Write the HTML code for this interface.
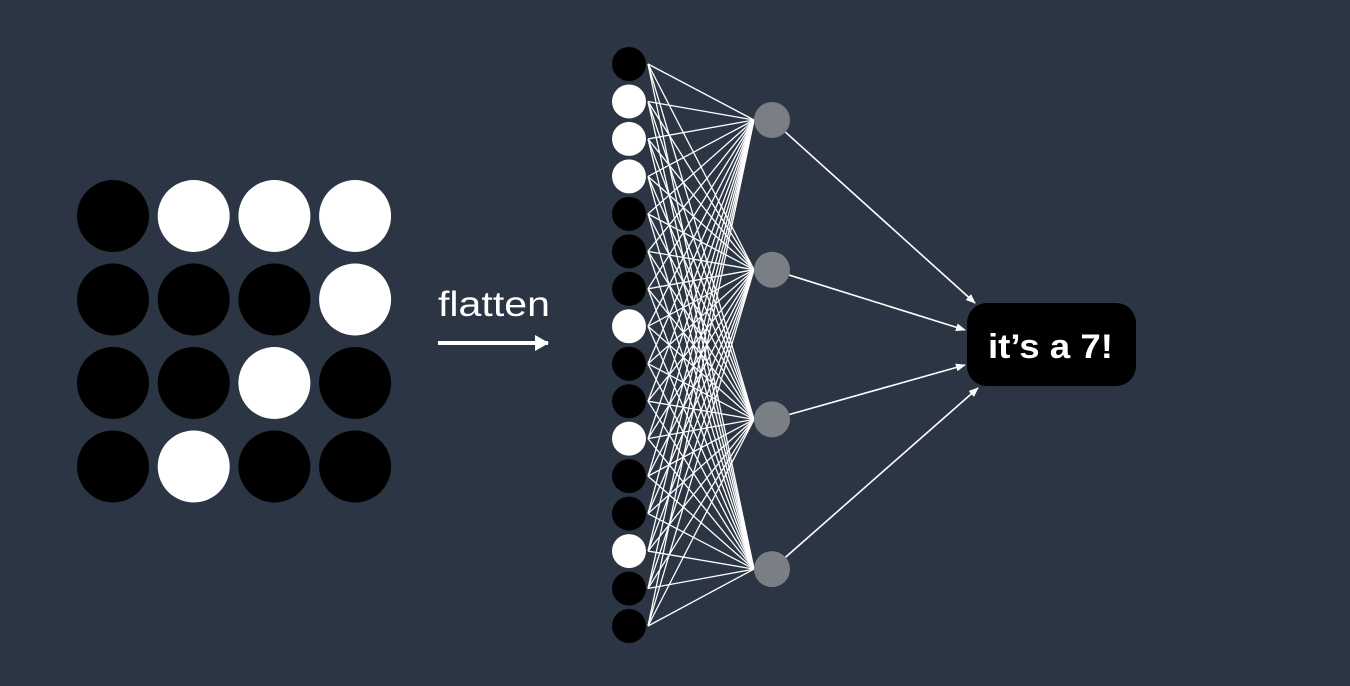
<!DOCTYPE html>
<html><head><meta charset="utf-8"><style>
html,body{margin:0;padding:0;background:#2b3543;width:1350px;height:686px;overflow:hidden}
svg{display:block}
</style></head><body>
<svg id="s" width="1350" height="686">
<defs><marker id="ah" markerWidth="10" markerHeight="10" refX="9" refY="5" orient="auto" markerUnits="userSpaceOnUse"><path d="M0,1 L10,5 L0,9 z" fill="#fff"/></marker>
<marker id="ah2" markerWidth="14" markerHeight="16" refX="13" refY="8" orient="auto" markerUnits="userSpaceOnUse"><path d="M0,0 L14,8 L0,16 z" fill="#fff"/></marker></defs>
<g id="grid"></g>
<text x="438" y="316" fill="#fff" font-family="Liberation Sans, sans-serif" font-size="35" textLength="112" lengthAdjust="spacingAndGlyphs">flatten</text>
<line x1="438" y1="343" x2="548" y2="343" stroke="#fff" stroke-width="4" marker-end="url(#ah2)"/>
<g id="edges"></g>
<g id="nodes"></g>
<rect x="967" y="303" width="169" height="83" rx="20" fill="#000"/>
<text x="988" y="358" fill="#fff" font-family="Liberation Sans, sans-serif" font-size="34" font-weight="bold" textLength="125" lengthAdjust="spacingAndGlyphs">it’s a 7!</text>
</svg>
<script>
const pixels = [[0,1,1,1],[0,0,0,1],[0,0,1,0],[0,1,0,0]];
const hiddenCount = 4;
const NS='http://www.w3.org/2000/svg';
function mk(t,a,p){const e=document.createElementNS(NS,t);for(const k in a)e.setAttribute(k,a[k]);p.appendChild(e);return e;}
const grid=document.getElementById('grid'),edges=document.getElementById('edges'),nodes=document.getElementById('nodes');
pixels.forEach((row,r)=>row.forEach((v,c)=>{
  const e=mk('circle',{cx:113+c*80.7,cy:216+r*83.5,r:36,fill:v?'#fff':'#000'},grid);
  
  
}));
const flat=pixels.flat();
const hy=i=>120+i*149.7;
const iy=i=>64+i*(626-64)/(flat.length-1);
flat.forEach((v,i)=>{for(let h=0;h<hiddenCount;h++){
  const l=mk('line',{x1:648,y1:iy(i),x2:754,y2:hy(h),stroke:'#fff','stroke-width':1.3},edges);
  
  
}});
const targets=[[975,303],[965,330],[965,365],[978,388]];
for(let h=0;h<hiddenCount;h++){
  const t=targets[h];
  const a=Math.atan2(t[1]-hy(h),t[0]-772);
  const l=mk('line',{x1:772+18*Math.cos(a),y1:hy(h)+18*Math.sin(a),x2:t[0],y2:t[1],stroke:'#fff','stroke-width':1.6,'marker-end':'url(#ah)'},edges);
  
  
}
flat.forEach((v,i)=>{
  const e=mk('circle',{cx:629,cy:iy(i),r:17,fill:v?'#fff':'#000'},nodes);
  
  
});
for(let h=0;h<hiddenCount;h++){
  const e=mk('circle',{cx:772,cy:hy(h),r:18,fill:'#7a7e85'},nodes);
  
  
}
</script>
</body></html>
